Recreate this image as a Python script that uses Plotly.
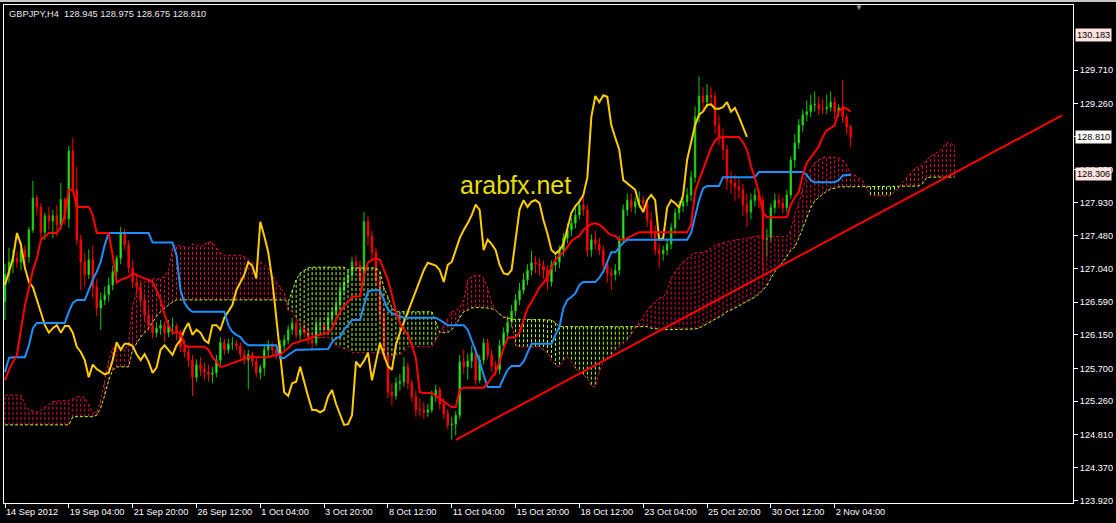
import plotly.graph_objects as go

# ---------------- data ----------------
header_text = "GBPJPY,H4  128.945 128.975 128.675 128.810"
watermark_text = "arabfx.net"

# time axis: bar index of each label (H4 bars, first visible bar = 14 Sep 2012 12:00)
tick_bars = [0, 16, 32, 48, 64, 80, 96, 112, 128, 144, 160, 176, 192, 208]
tick_labels = ["14 Sep 2012", "19 Sep 04:00", "21 Sep 20:00", "26 Sep 12:00", "1 Oct 04:00",
               "3 Oct 20:00", "8 Oct 12:00", "11 Oct 04:00", "15 Oct 20:00", "18 Oct 12:00",
               "23 Oct 04:00", "25 Oct 20:00", "30 Oct 12:00", "2 Nov 04:00"]

price_ticks = [123.920, 124.370, 124.810, 125.260, 125.700, 126.150, 126.590,
               127.040, 127.480, 127.930, 128.370, 128.810, 129.260, 129.710]

open_ = [
126.60, 126.96, 127.13, 127.18, 127.13, 127.29, 127.20, 127.56, 127.99, 127.87,
127.53, 127.75, 127.68, 127.75, 127.63, 127.97, 127.71, 128.62, 128.10, 127.43,
127.13, 126.96, 127.16, 126.79, 126.51, 126.62, 126.69, 126.82, 127.00, 127.18,
127.52, 127.36, 127.05, 126.86, 126.79, 126.62, 126.42, 126.28, 126.18, 126.24,
126.28, 126.18, 126.27, 126.27, 126.18, 125.99, 125.92, 125.81, 125.58, 125.75,
125.69, 125.65, 125.62, 125.64, 125.81, 126.05, 125.95, 126.03, 126.03, 126.00,
125.89, 125.81, 125.89, 125.79, 125.64, 125.71, 125.95, 126.01, 125.95, 125.88,
126.01, 126.08, 126.22, 126.31, 126.15, 126.22, 126.18, 126.08, 126.04, 126.28,
126.28, 126.22, 126.38, 126.46, 126.55, 126.75, 126.86, 126.96, 127.13, 127.08,
126.91, 127.67, 127.48, 127.26, 126.89, 126.42, 125.88, 125.38, 125.33, 125.50,
125.52, 125.72, 125.50, 125.32, 125.14, 125.14, 125.11, 125.14, 125.32, 125.41,
125.22, 125.09, 124.94, 124.95, 125.07, 125.79, 125.72, 125.80, 125.91, 125.54,
125.81, 126.04, 125.88, 125.73, 125.68, 126.01, 126.18, 126.32, 126.47, 126.62,
126.75, 126.89, 127.02, 127.12, 127.10, 127.08, 127.02, 126.86, 127.09, 127.13,
127.29, 127.45, 127.56, 127.65, 127.76, 127.90, 127.83, 127.29, 127.43, 127.37,
127.29, 127.09, 126.98, 126.96, 127.02, 127.43, 127.83, 127.96, 127.87, 127.94,
127.96, 127.92, 127.69, 127.51, 127.29, 127.24, 127.29, 127.37, 127.59, 127.79,
127.88, 127.94, 128.03, 128.27, 129.08, 129.36, 129.28, 129.37, 129.35, 128.97,
128.80, 128.64, 128.23, 128.19, 128.14, 128.10, 127.90, 127.80, 127.96, 128.03,
127.96, 127.43, 127.45, 127.86, 127.96, 127.92, 127.86, 128.03, 128.50, 128.73,
128.97, 129.11, 129.15, 129.24, 129.25, 129.19, 129.19, 129.21, 129.28, 129.15,
129.20, 129.08, 128.945]

high = [
127.10, 127.32, 127.30, 127.27, 127.40, 127.36, 127.60, 128.22, 128.03, 127.92,
127.79, 127.87, 127.83, 127.90, 128.19, 128.00, 128.69, 128.80, 128.41, 127.50,
127.25, 127.30, 127.35, 126.90, 126.72, 126.80, 126.92, 127.08, 127.22, 127.60,
127.58, 127.42, 127.15, 126.98, 126.88, 126.70, 126.50, 126.40, 126.32, 126.35,
126.33, 126.35, 126.38, 126.30, 126.22, 126.08, 126.00, 125.88, 125.82, 125.85,
125.78, 125.75, 125.72, 125.88, 126.12, 126.10, 126.10, 126.12, 126.08, 126.05,
125.95, 125.95, 125.92, 125.85, 125.75, 126.02, 126.08, 126.05, 126.00, 126.08,
126.15, 126.28, 126.38, 126.36, 126.28, 126.30, 126.25, 126.15, 126.35, 126.36,
126.32, 126.45, 126.52, 126.62, 126.82, 126.92, 127.00, 127.20, 127.22, 127.15,
127.80, 127.75, 127.55, 127.32, 126.95, 126.50, 125.95, 125.50, 125.58, 125.62,
125.85, 125.78, 125.55, 125.40, 125.30, 125.25, 125.22, 125.40, 125.48, 125.45,
125.30, 125.15, 125.05, 125.12, 125.88, 125.95, 125.90, 126.00, 125.98, 125.88,
126.10, 126.10, 125.95, 125.80, 126.08, 126.25, 126.40, 126.55, 126.70, 126.85,
126.98, 127.10, 127.28, 127.20, 127.18, 127.15, 127.08, 127.15, 127.22, 127.35,
127.52, 127.65, 127.72, 127.85, 127.98, 128.05, 127.90, 127.50, 127.55, 127.45,
127.35, 127.15, 127.05, 127.10, 127.48, 127.90, 128.05, 128.05, 128.00, 128.08,
128.02, 127.98, 127.80, 127.62, 127.38, 127.35, 127.45, 127.65, 127.85, 127.95,
128.00, 128.12, 128.35, 129.22, 129.62, 129.48, 129.52, 129.48, 129.42, 129.10,
128.92, 128.70, 128.35, 128.30, 128.25, 128.18, 128.05, 128.05, 128.12, 128.10,
128.02, 127.58, 127.92, 128.05, 128.05, 128.00, 128.10, 128.55, 128.85, 129.05,
129.18, 129.30, 129.38, 129.42, 129.35, 129.32, 129.38, 129.42, 129.35, 129.25,
129.58, 129.12, 128.975]

low = [
126.35, 126.85, 126.98, 127.05, 127.02, 127.11, 127.12, 127.52, 127.76, 127.45,
127.43, 127.56, 127.45, 127.47, 127.56, 127.63, 127.59, 128.07, 127.36, 126.75,
126.80, 126.90, 126.65, 126.40, 126.22, 126.55, 126.60, 126.75, 126.92, 127.10,
127.30, 126.98, 126.78, 126.70, 126.55, 126.35, 126.20, 126.10, 126.12, 126.15,
126.05, 126.12, 126.15, 126.08, 125.92, 125.85, 125.72, 125.33, 125.52, 125.60,
125.55, 125.52, 125.50, 125.58, 125.75, 125.88, 125.90, 125.95, 125.94, 125.82,
125.75, 125.42, 125.72, 125.58, 125.55, 125.60, 125.85, 125.88, 125.82, 125.85,
125.95, 126.02, 126.15, 126.10, 126.08, 126.12, 126.02, 125.95, 126.00, 126.18,
126.15, 126.18, 126.32, 126.40, 126.50, 126.68, 126.80, 126.90, 127.00, 126.85,
126.82, 127.35, 127.18, 126.80, 126.30, 125.82, 125.30, 125.20, 125.28, 125.40,
125.45, 125.42, 125.25, 125.05, 125.05, 125.02, 125.05, 125.10, 125.25, 125.15,
125.02, 124.88, 124.74, 124.80, 125.02, 125.62, 125.55, 125.70, 125.48, 125.50,
125.75, 125.82, 125.65, 125.60, 125.62, 125.95, 126.12, 126.25, 126.40, 126.55,
126.70, 126.82, 126.95, 126.98, 126.95, 126.90, 126.75, 126.80, 127.00, 127.05,
127.20, 127.38, 127.48, 127.58, 127.70, 127.75, 127.20, 127.20, 127.30, 127.22,
126.98, 126.85, 126.75, 126.88, 126.95, 127.38, 127.75, 127.80, 127.78, 127.85,
127.80, 127.60, 127.45, 127.22, 127.05, 127.15, 127.22, 127.30, 127.50, 127.70,
127.80, 127.88, 127.95, 128.20, 129.00, 129.15, 129.20, 129.25, 128.85, 128.70,
128.50, 128.10, 128.05, 127.95, 127.98, 127.75, 127.60, 127.70, 127.88, 127.85,
127.00, 127.20, 127.40, 127.78, 127.85, 127.78, 127.80, 127.98, 128.40, 128.65,
128.88, 129.02, 129.08, 129.15, 129.10, 129.12, 129.12, 129.15, 129.05, 129.08,
129.00, 128.85, 128.675]

close = [
126.96, 127.13, 127.18, 127.13, 127.29, 127.20, 127.56, 127.99, 127.87, 127.53,
127.75, 127.68, 127.75, 127.63, 127.97, 127.71, 128.62, 128.10, 127.43, 127.13,
126.96, 127.16, 126.79, 126.51, 126.62, 126.69, 126.82, 127.00, 127.18, 127.52,
127.36, 127.05, 126.86, 126.79, 126.62, 126.42, 126.28, 126.18, 126.24, 126.28,
126.18, 126.27, 126.27, 126.18, 125.99, 125.92, 125.81, 125.58, 125.75, 125.69,
125.65, 125.62, 125.64, 125.81, 126.05, 125.95, 126.03, 126.03, 126.00, 125.89,
125.81, 125.89, 125.79, 125.64, 125.71, 125.95, 126.01, 125.95, 125.88, 126.01,
126.08, 126.22, 126.31, 126.15, 126.22, 126.18, 126.08, 126.04, 126.28, 126.28,
126.22, 126.38, 126.46, 126.55, 126.75, 126.86, 126.96, 127.13, 127.08, 126.91,
127.67, 127.48, 127.26, 126.89, 126.42, 125.88, 125.38, 125.33, 125.50, 125.52,
125.72, 125.50, 125.32, 125.14, 125.14, 125.11, 125.14, 125.32, 125.41, 125.22,
125.09, 124.94, 124.95, 125.07, 125.79, 125.72, 125.80, 125.91, 125.54, 125.81,
126.04, 125.88, 125.73, 125.68, 126.01, 126.18, 126.32, 126.47, 126.62, 126.75,
126.89, 127.02, 127.12, 127.10, 127.08, 127.02, 126.86, 127.09, 127.13, 127.29,
127.45, 127.56, 127.65, 127.76, 127.90, 127.83, 127.29, 127.43, 127.37, 127.29,
127.09, 126.98, 126.96, 127.02, 127.43, 127.83, 127.96, 127.87, 127.94, 127.96,
127.92, 127.69, 127.51, 127.29, 127.24, 127.29, 127.37, 127.59, 127.79, 127.88,
127.94, 128.03, 128.27, 129.08, 129.36, 129.28, 129.37, 129.35, 128.97, 128.80,
128.64, 128.23, 128.19, 128.14, 128.10, 127.90, 127.80, 127.96, 128.03, 127.96,
127.43, 127.45, 127.86, 127.96, 127.92, 127.86, 128.03, 128.50, 128.73, 128.97,
129.11, 129.15, 129.24, 129.25, 129.19, 129.19, 129.21, 129.28, 129.15, 129.20,
129.08, 128.94, 128.81]

tenkan = [
125.54, 125.68, 125.79, 125.88, 126.22, 126.55, 126.78, 127.02, 127.18, 127.43,
127.47, 127.52, 127.52, 127.52, 127.60, 127.76, 128.10, 128.10, 127.87, 127.87,
127.87, 127.87, 127.76, 127.52, 127.52, 127.52, 127.52, 127.22, 126.85, 126.89,
126.91, 126.93, 126.98, 126.95, 126.93, 126.91, 126.89, 126.86, 126.75, 126.62,
126.42, 126.28, 126.18, 126.18, 126.18, 126.01, 125.99, 125.99, 125.99, 125.99,
125.99, 125.95, 125.85, 125.79, 125.72, 125.73, 125.75, 125.77, 125.79, 125.81,
125.83, 125.85, 125.85, 125.85, 125.85, 125.85, 125.85, 125.87, 125.88, 125.88,
125.93, 125.97, 126.03, 126.05, 126.07, 126.08, 126.09, 126.12, 126.14, 126.15,
126.16, 126.18, 126.24, 126.35, 126.46, 126.54, 126.59, 126.66, 126.67, 126.67,
126.95, 127.12, 127.16, 127.18, 127.16, 127.02, 126.89, 126.69, 126.46, 126.31,
126.22, 126.15, 126.01, 125.84, 125.38, 125.37, 125.37, 125.37, 125.33, 125.29,
125.26, 125.22, 125.18, 125.18, 125.41, 125.44, 125.44, 125.44, 125.44, 125.44,
125.44, 125.50, 125.58, 125.65, 125.79, 125.97, 126.11, 126.12, 126.12, 126.18,
126.35, 126.51, 126.59, 126.69, 126.79, 126.85, 126.93, 127.06, 127.16, 127.22,
127.26, 127.33, 127.41, 127.45, 127.48, 127.56, 127.60, 127.64, 127.65, 127.63,
127.59, 127.53, 127.49, 127.48, 127.43, 127.43, 127.45, 127.48, 127.51, 127.53,
127.53, 127.53, 127.53, 127.53, 127.53, 127.53, 127.53, 127.53, 127.53, 127.53,
127.53, 127.53, 127.63, 128.07, 128.23, 128.37, 128.50, 128.66, 128.76, 128.80,
128.81, 128.81, 128.81, 128.81, 128.81, 128.74, 128.64, 128.42, 128.26, 128.06,
127.80, 127.73, 127.73, 127.73, 127.73, 127.73, 127.73, 127.90, 128.00, 128.07,
128.30, 128.46, 128.53, 128.61, 128.68, 128.81, 128.90, 128.93, 128.97, 129.15,
129.21, 129.19, 129.15]

kijun = [
125.65, 125.84, 125.85, 125.85, 125.85, 125.85, 126.01, 126.24, 126.31, 126.31,
126.31, 126.31, 126.31, 126.31, 126.31, 126.31, 126.46, 126.58, 126.62, 126.62,
126.62, 126.75, 126.89, 127.00, 127.13, 127.36, 127.52, 127.52, 127.52, 127.52,
127.52, 127.52, 127.52, 127.52, 127.52, 127.52, 127.52, 127.39, 127.39, 127.39,
127.39, 127.39, 127.39, 127.22, 126.75, 126.58, 126.50, 126.46, 126.46, 126.46,
126.46, 126.46, 126.46, 126.46, 126.46, 126.46, 126.28, 126.19, 126.15, 126.12,
126.05, 126.01, 126.01, 126.01, 126.01, 126.01, 126.01, 126.01, 126.01, 125.84,
125.84, 125.88, 125.91, 125.95, 125.95, 125.95, 125.95, 125.95, 125.95, 125.95,
125.95, 125.96, 126.05, 126.11, 126.12, 126.22, 126.28, 126.35, 126.35, 126.35,
126.55, 126.73, 126.75, 126.75, 126.75, 126.62, 126.49, 126.44, 126.42, 126.40,
126.38, 126.38, 126.38, 126.38, 126.38, 126.38, 126.38, 126.38, 126.38, 126.35,
126.32, 126.28, 126.28, 126.28, 126.28, 126.28, 126.22, 126.08, 125.95, 125.79,
125.61, 125.45, 125.45, 125.45, 125.45, 125.57, 125.68, 125.73, 125.73, 125.73,
125.79, 125.92, 126.03, 126.03, 126.03, 126.03, 126.03, 126.03, 126.15, 126.26,
126.51, 126.62, 126.66, 126.71, 126.82, 126.86, 126.86, 126.86, 126.86, 126.92,
127.00, 127.13, 127.26, 127.26, 127.32, 127.39, 127.43, 127.43, 127.43, 127.43,
127.43, 127.43, 127.43, 127.43, 127.43, 127.43, 127.43, 127.43, 127.43, 127.43,
127.43, 127.43, 127.52, 127.76, 127.96, 128.12, 128.15, 128.15, 128.15, 128.15,
128.27, 128.27, 128.27, 128.27, 128.27, 128.27, 128.27, 128.27, 128.27, 128.34,
128.34, 128.34, 128.34, 128.34, 128.34, 128.34, 128.34, 128.34, 128.34, 128.34,
128.34, 128.30, 128.23, 128.20, 128.20, 128.20, 128.20, 128.20, 128.20, 128.23,
128.29, 128.30, 128.30]

# Senkou spans as plotted (already shifted 26 bars ahead), bars 0..238
senkou_a = [
124.94, 124.94, 124.94, 124.94, 124.94, 124.94, 124.94, 124.94, 124.94, 124.94,
124.94, 124.94, 124.94, 124.94, 124.94, 124.94, 124.94, 125.05, 125.05, 125.05,
125.05, 125.05, 125.05, 125.07, 125.17, 125.34, 125.54, 125.68, 125.72, 125.72,
125.72, 125.72, 125.95, 126.04, 126.12, 126.18, 126.24, 126.32, 126.40, 126.46,
126.51, 126.55, 126.59, 126.62, 126.62, 126.62, 126.62, 126.62, 126.62, 126.62,
126.62, 126.62, 126.62, 126.62, 126.62, 126.62, 126.62, 126.62, 126.62, 126.62,
126.62, 126.62, 126.62, 126.62, 126.62, 126.62, 126.62, 126.62, 126.62, 126.62,
126.62, 126.59, 126.75, 126.89, 126.98, 127.02, 127.05, 127.06, 127.06, 127.06,
127.06, 127.06, 127.06, 127.06, 127.06, 127.06, 127.02, 127.05, 127.05, 127.05,
127.05, 127.05, 127.05, 127.05, 127.00, 126.78, 126.66, 126.51, 126.46, 126.46,
126.46, 126.46, 126.46, 126.46, 126.46, 126.46, 126.46, 126.46, 126.32, 126.18,
126.18, 126.18, 126.22, 126.28, 126.38, 126.46, 126.48, 126.51, 126.52, 126.52,
126.52, 126.51, 126.50, 126.48, 126.43, 126.39, 126.38, 126.36, 126.36, 126.36,
126.36, 126.36, 126.36, 126.36, 126.36, 126.36, 126.35, 126.35, 126.31, 126.26,
126.26, 126.26, 126.26, 126.26, 126.26, 126.26, 126.26, 126.26, 126.26, 126.26,
126.26, 126.26, 126.26, 126.26, 126.26, 126.26, 126.26, 126.26, 126.26, 126.26,
126.26, 126.26, 126.24, 126.23, 126.22, 126.22, 126.22, 126.22, 126.22, 126.22,
126.22, 126.22, 126.22, 126.23, 126.24, 126.27, 126.30, 126.32, 126.35, 126.38,
126.42, 126.46, 126.48, 126.51, 126.54, 126.57, 126.59, 126.62, 126.66, 126.70,
126.75, 126.81, 126.91, 127.00, 127.06, 127.13, 127.20, 127.29, 127.33, 127.45,
127.59, 127.72, 127.86, 127.95, 128.00, 128.04, 128.08, 128.11, 128.12, 128.14,
128.14, 128.14, 128.14, 128.14, 128.14, 128.14, 128.14, 128.14, 128.14, 128.14,
128.14, 128.14, 128.14, 128.14, 128.14, 128.14, 128.15, 128.15, 128.15, 128.15,
128.18, 128.26, 128.27, 128.27, 128.27, 128.27, 128.27, 128.27, 128.27]

senkou_b = [
125.34, 125.34, 125.34, 125.34, 125.34, 125.21, 125.14, 125.13, 125.11, 125.14,
125.18, 125.21, 125.25, 125.26, 125.26, 125.26, 125.27, 125.29, 125.32, 125.32,
125.30, 125.21, 125.10, 125.11, 125.27, 125.54, 125.81, 125.97, 125.99, 125.95,
125.95, 126.04, 126.55, 126.73, 126.82, 126.86, 126.89, 126.91, 126.89, 126.91,
126.93, 127.02, 127.32, 127.36, 127.34, 127.33, 127.32, 127.37, 127.36, 127.33,
127.37, 127.40, 127.39, 127.32, 127.25, 127.22, 127.22, 127.22, 127.22, 127.22,
127.20, 127.16, 127.12, 127.10, 127.13, 127.09, 127.05, 126.95, 126.86, 126.79,
126.71, 126.48, 126.46, 126.38, 126.28, 126.19, 126.14, 126.12, 126.11, 126.11,
126.12, 126.12, 126.08, 126.01, 125.99, 125.96, 125.95, 125.91, 125.91, 125.91,
125.91, 125.91, 125.91, 125.91, 125.91, 125.88, 125.85, 125.87, 125.88, 125.89,
125.92, 125.99, 125.99, 125.99, 125.99, 125.99, 125.99, 125.99, 126.08, 126.18,
126.28, 126.38, 126.46, 126.48, 126.51, 126.62, 126.89, 126.93, 126.95, 126.95,
126.91, 126.78, 126.58, 126.48, 126.42, 126.38, 126.35, 126.32, 126.01, 125.99,
125.99, 125.99, 125.99, 125.99, 125.99, 125.95, 125.91, 125.81, 125.75, 125.72,
125.81, 125.85, 125.79, 125.70, 125.65, 125.61, 125.57, 125.46, 125.45, 125.65,
125.79, 125.84, 125.88, 125.95, 125.99, 126.04, 126.08, 126.16, 126.24, 126.32,
126.40, 126.48, 126.55, 126.59, 126.65, 126.65, 126.75, 126.91, 127.00, 127.08,
127.13, 127.18, 127.22, 127.25, 127.25, 127.26, 127.28, 127.32, 127.36, 127.37,
127.39, 127.40, 127.41, 127.43, 127.43, 127.44, 127.45, 127.47, 127.48, 127.49,
127.49, 127.48, 127.47, 127.47, 127.47, 127.47, 127.47, 127.56, 127.76, 127.92,
128.10, 128.29, 128.39, 128.46, 128.50, 128.53, 128.54, 128.54, 128.53, 128.53,
128.50, 128.43, 128.31, 128.30, 128.26, 128.22, 128.12, 128.02, 128.02, 128.02,
128.02, 128.02, 128.02, 128.07, 128.12, 128.20, 128.26, 128.33, 128.38, 128.41,
128.43, 128.49, 128.55, 128.58, 128.61, 128.66, 128.73, 128.73, 128.69]

chikou_shift = 26

# drawn objects
trend_bars = [113, 265]
trend_prices = [124.74, 129.10]
dashed_levels = [130.183, 128.306]
bid_price = 128.810

# ---------------- styles ----------------
BG = "#000000"
FG = "#FFFFFF"
FONT = "Liberation Sans"
UP_LINE, UP_FILL = "#10C810", "#6CFF1E"
DN_LINE, DN_FILL = "#FF0000", "#FF0000"
TENKAN_C = "#FF0000"
KIJUN_C = "#1E90FF"
CHIKOU_C = "#FFCC00"
KUMO_UP = "#ADFF2F"
KUMO_DN = "#DC143C"
HATCH = "3px,2px"

bars = list(range(len(close)))
cloud_bars = list(range(len(senkou_a)))

fig = go.Figure()

# kumo hatch: one vertical dotted segment per bar between the spans
up_x, up_y, dn_x, dn_y = [], [], [], []
for i, (a, b) in zip(cloud_bars, zip(senkou_a, senkou_b)):
    if a >= b:
        up_x += [i, i, None]; up_y += [a, b, None]
    else:
        dn_x += [i, i, None]; dn_y += [a, b, None]
fig.add_trace(go.Scatter(x=up_x, y=up_y, mode="lines", hoverinfo="skip",
                         line=dict(color=KUMO_UP, width=1, dash=HATCH)))
fig.add_trace(go.Scatter(x=dn_x, y=dn_y, mode="lines", hoverinfo="skip",
                         line=dict(color=KUMO_DN, width=1, dash=HATCH)))
fig.add_trace(go.Scatter(x=cloud_bars, y=senkou_a, mode="lines", name="Senkou Span A",
                         line=dict(color=KUMO_UP, width=1, dash=HATCH)))
fig.add_trace(go.Scatter(x=cloud_bars, y=senkou_b, mode="lines", name="Senkou Span B",
                         line=dict(color=KUMO_DN, width=1, dash=HATCH)))

# candles
fig.add_trace(go.Candlestick(
    x=bars, open=open_, high=high, low=low, close=close, name="GBPJPY,H4",
    whiskerwidth=0,
    increasing=dict(line=dict(color=UP_LINE, width=1), fillcolor=UP_FILL),
    decreasing=dict(line=dict(color=DN_LINE, width=1), fillcolor=DN_FILL)))

# Ichimoku lines
fig.add_trace(go.Scatter(x=bars[:len(close) - chikou_shift], y=close[chikou_shift:],
                         mode="lines", name="Chikou Span",
                         line=dict(color=CHIKOU_C, width=2)))
fig.add_trace(go.Scatter(x=bars, y=kijun, mode="lines", name="Kijun-sen",
                         line=dict(color=KIJUN_C, width=2)))
fig.add_trace(go.Scatter(x=bars, y=tenkan, mode="lines", name="Tenkan-sen",
                         line=dict(color=TENKAN_C, width=2)))

# trend line
fig.add_trace(go.Scatter(x=trend_bars, y=trend_prices, mode="lines", name="trend",
                         line=dict(color="#FF0000", width=2)))

# horizontal levels
for lv in dashed_levels:
    fig.add_hline(y=lv, line=dict(color="#F2E4E4", width=1, dash="3px,3px"))
fig.add_hline(y=bid_price, line=dict(color="#8090A8", width=1))

# price labels on the scale
for lv in dashed_levels:
    fig.add_annotation(x=1, xref="paper", y=lv, yref="y", text=f"{lv:.3f}",
                       xanchor="left", yanchor="middle", xshift=2, showarrow=False,
                       bgcolor="#FFE4E1", borderpad=1,
                       font=dict(family=FONT, size=9.2, color="#000000"))
fig.add_annotation(x=1, xref="paper", y=bid_price, yref="y", text=f"{bid_price:.3f}",
                   xanchor="left", yanchor="middle", xshift=2, showarrow=False,
                   bgcolor="#FFFFFF", borderpad=1,
                   font=dict(family=FONT, size=9.2, color="#000000"))

# header and watermark
fig.add_annotation(x=0, xref="paper", y=1, yref="paper", text=header_text,
                   xanchor="left", yanchor="top", xshift=3, yshift=-2, showarrow=False,
                   font=dict(family=FONT, size=9.3, color="#E8E8E8"))
fig.add_annotation(x=0.4785, xref="paper", y=0.6386, yref="paper", text=watermark_text,
                   xanchor="center", yanchor="middle", showarrow=False,
                   font=dict(family=FONT, size=25, color="#E6DE00"))
fig.add_annotation(x=0.7995, xref="paper", y=1.0, yref="paper", text="▼",
                   xanchor="center", yanchor="middle", showarrow=False, yshift=-2,
                   font=dict(family=FONT, size=8, color="#9A9A9A"))

# the scale label of the bid level sits under the bid price box, so it is left blank
price_tick_text = ["" if abs(v - bid_price) < 1e-9 else f"{v:.3f}" for v in price_ticks]

fig.update_layout(
    width=1116, height=523,
    margin=dict(l=3, r=41, t=5, b=20),
    paper_bgcolor=BG, plot_bgcolor=BG,
    showlegend=False, boxgap=0.5,
    xaxis=dict(range=[-0.25, 267.75], showgrid=False, zeroline=False,
               showline=True, linecolor=FG, linewidth=1, mirror=True,
               tickmode="array", tickvals=tick_bars, ticktext=tick_labels,
               ticks="outside", ticklen=4, tickcolor=FG,
               ticklabelposition="outside right",
               tickfont=dict(family=FONT, size=9.2, color=FG),
               rangeslider=dict(visible=False), fixedrange=True),
    yaxis=dict(range=[123.890, 130.584], side="right", showgrid=False, zeroline=False,
               showline=True, linecolor=FG, linewidth=1, mirror=True,
               tickmode="array", tickvals=price_ticks, ticktext=price_tick_text,
               ticks="outside", ticklen=4, tickcolor=FG,
               tickfont=dict(family=FONT, size=9.2, color=FG), fixedrange=True),
    shapes=[
        dict(type="rect", xref="paper", yref="paper", x0=-0.01, x1=1.05,
             y0=1.0062, y1=1.0200, fillcolor="#C8C8C8", line=dict(width=0), layer="below"),
    ],
)

fig.write_html("out.html", config={"displayModeBar": False},
               post_script="document.body.style.margin='0';document.body.style.overflow='hidden';document.body.style.background='#000';")
